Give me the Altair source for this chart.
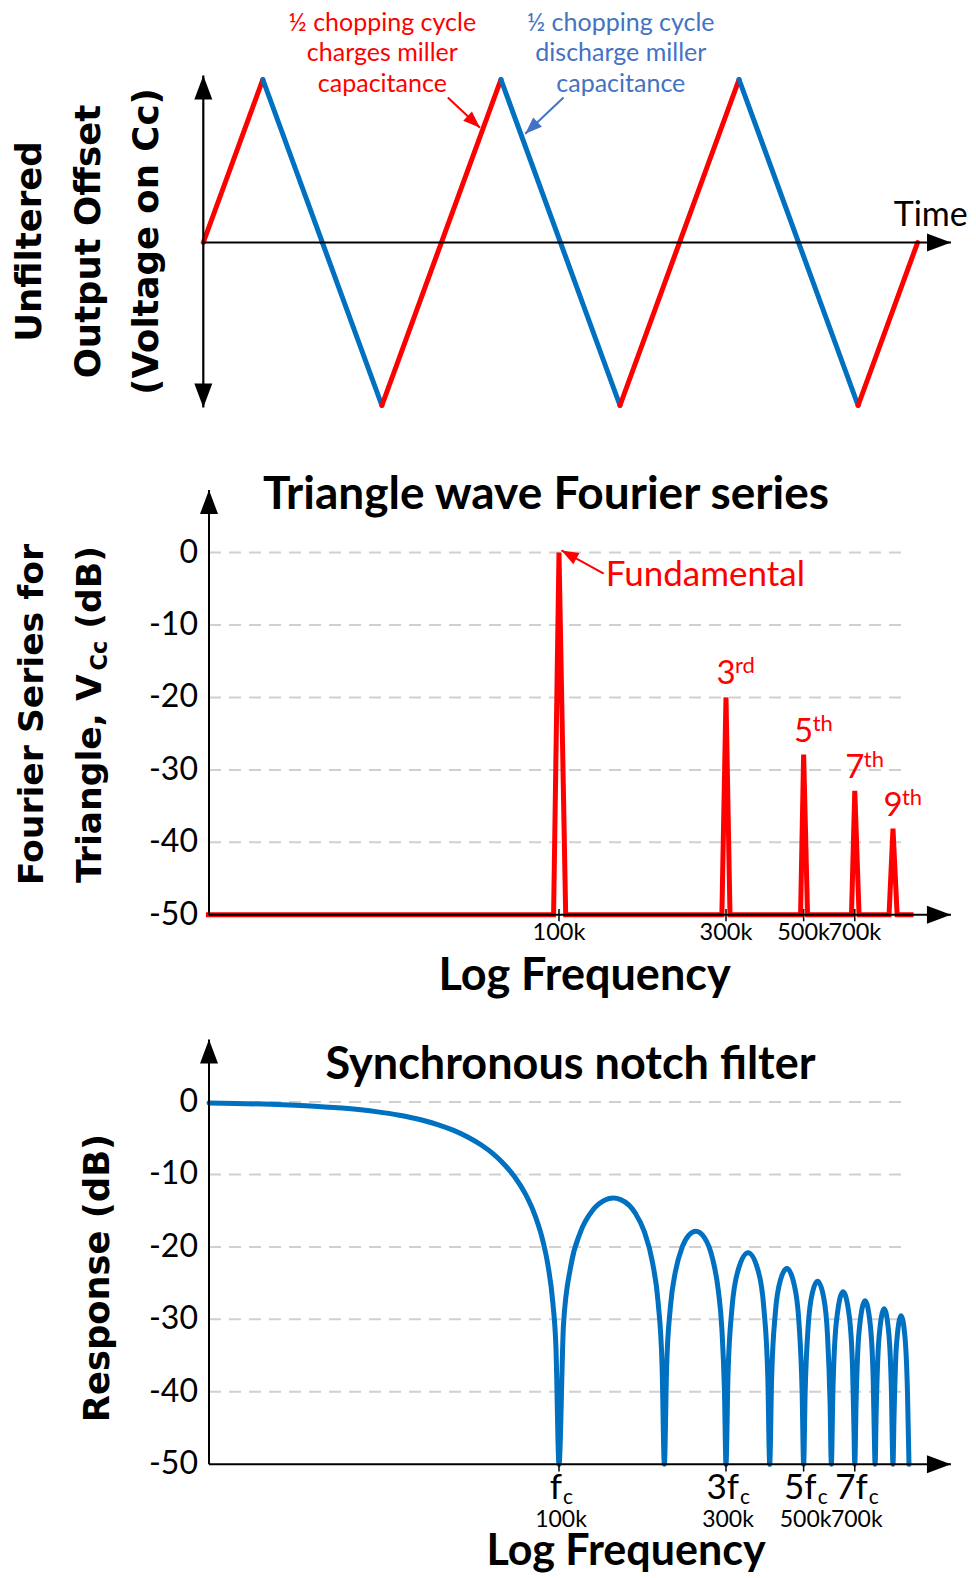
import altair as alt
import pandas as pd

# ---------------- data ----------------
# Panel 1: triangle wave (time in half chopping periods, normalised offset)
tri_time = [0, 0.5, 1.5, 2.5, 3.5, 4.5, 5.5, 6.0]
tri_volt = [0, 1.0, -1.0, 1.0, -1.0, 1.0, -1.0, 0]

# Panel 2: Fourier series of the triangle (kHz, dB)
spec_khz = [9.8, 96.5, 100, 104.5, 292, 300, 308, 490, 500, 513, 685, 700, 720, 877, 900, 925, 1030]
spec_db = [-50, -50, 0, -50, -50, -20.0, -50, -50, -27.9, -50, -50, -32.9, -50, -50, -38.1, -50, -50]
harm_khz = [300, 500, 700, 900]
harm_db = [-20.0, -27.9, -32.9, -38.1]
harm_num = ["3", "5", "7", "9"]
harm_sup = ["rd", "th", "th", "th"]

# Panel 3: synchronous notch filter response (kHz, dB)
notch_khz = [10, 15, 20, 25, 30, 35, 40, 45, 50, 55, 60, 65, 70, 75, 80, 85, 90, 93, 96, 98, 100,
             103, 108, 115, 125, 135, 143, 150, 165, 175, 185, 192, 197, 200,
             203, 208, 215, 225, 235, 246, 260, 275, 285, 292, 297, 300,
             304, 312, 325, 347, 370, 385, 395, 400,
             405, 415, 430, 448, 470, 485, 495, 500,
             505, 515, 530, 548, 570, 585, 595, 600,
             606, 620, 648, 675, 690, 696, 700,
             706, 720, 749, 775, 790, 796, 800,
             806, 820, 849, 875, 890, 900,
             906, 920, 949, 975, 990, 1000]
notch_db = [-0.14, -0.32, -0.58, -0.91, -1.33, -1.83, -2.42, -3.12, -3.92, -4.86, -5.94, -7.20, -8.69,
            -10.45, -12.62, -15.39, -19.23, -22.54, -27.63, -33.81, -50,
            -30.73, -22.70, -18.02, -14.89, -13.55, -13.26, -13.47, -15.30, -17.81, -22.15, -27.70, -36.36, -50,
            -36.62, -28.39, -23.45, -20.00, -18.37, -17.83, -18.68, -21.74, -25.90, -31.34, -39.93, -50,
            -37.64, -28.51, -23.19, -20.79, -23.15, -28.51, -37.99, -50,
            -38.21, -29.16, -24.45, -22.99, -25.23, -30.52, -39.95, -50,
            -40.12, -31.04, -26.27, -24.74, -26.90, -32.15, -41.55, -50,
            -40.14, -30.41, -26.19, -29.54, -36.92, -44.84, -50,
            -41.46, -31.70, -27.44, -30.74, -38.10, -46.00, -50,
            -42.62, -32.83, -28.53, -31.79, -39.13, -50,
            -43.63, -33.83, -29.49, -32.73, -40.06, -50]

tick_khz = [100, 300, 500, 700]
tick_text = ["100k", "300k", "500k", "700k"]
fc_text = ["f", "3f", "5f", "7f"]
db_ticks = [0, -10, -20, -30, -40, -50]
grid_db = [0, -10, -20, -30, -40]

# ---------------- styling ----------------
FONT = "Lato"
TFONT = "DejaVu Sans"
RED = "#FF0000"
BLUE = "#0070C0"
LBLUE = "#4472C4"
GRID = "#D0D0D0"
ARROW = "M0,0L0.75,2L-0.75,2Z"
W = 960


def df(**cols):
    return pd.DataFrame(cols)


def xy(sx, sy):
    return dict(x=alt.X("x:Q", scale=sx, axis=None), y=alt.Y("y:Q", scale=sy, axis=None))


def rules(data, sx, sy, **mk):
    return alt.Chart(data).mark_rule(**mk).encode(**xy(sx, sy), x2="x2:Q", y2="y2:Q")


def texts(data, sx, sy, **mk):
    return alt.Chart(data).mark_text(**mk).encode(**xy(sx, sy), text="label:N")


def heads(data, sx, sy, size=576, color="black"):
    return alt.Chart(data).mark_point(shape=ARROW, filled=True, size=size, color=color,
                                      opacity=1, strokeWidth=0).encode(
        **xy(sx, sy), angle=alt.Angle("ang:Q", scale=None))


# ================= Panel 1 =================
sx1 = alt.Scale(domain=[-1.6405, 6.4233], nice=False, zero=False)
sy1 = alt.Scale(domain=[-1.2607, 1.4387], nice=False, zero=False)

seg = pd.DataFrame({
    "x": tri_time[:-1], "y": tri_volt[:-1], "x2": tri_time[1:], "y2": tri_volt[1:],
    "phase": ["charge" if b > a else "discharge" for a, b in zip(tri_volt[:-1], tri_volt[1:])],
})
tri = alt.Chart(seg).mark_rule(strokeWidth=5, strokeCap="round").encode(
    **xy(sx1, sy1), x2="x2:Q", y2="y2:Q",
    color=alt.Color("phase:N", scale=alt.Scale(domain=["charge", "discharge"], range=[RED, BLUE]), legend=None))

ax1 = rules(df(x=[0, 0], y=[-1.0129, 0], x2=[0, 6.2806], y2=[1.0245, 0]), sx1, sy1,
            color="black", strokeWidth=2.2)
hd1 = heads(df(x=[0, 0, 6.2806], y=[1.0245, -1.0129, 0], ang=[0, 180, 90]), sx1, sy1)

red_txt = texts(df(x=[1.504] * 3, y=[1.345, 1.162, 0.973],
                   label=["½ chopping cycle", "charges miller", "capacitance"]), sx1, sy1,
                font=FONT, fontSize=25, color=RED, align="center", baseline="middle")
blue_txt = texts(df(x=[3.507] * 3, y=[1.345, 1.162, 0.973],
                    label=["½ chopping cycle", "discharge miller", "capacitance"]), sx1, sy1,
                 font=FONT, fontSize=25, color=LBLUE, align="center", baseline="middle")
time_txt = texts(df(x=[6.11], y=[0.160], label=["Time"]), sx1, sy1,
                 font=FONT, fontSize=34, color="black", align="center", baseline="middle")

red_arr = rules(df(x=[2.054], y=[0.889], x2=[2.324], y2=[0.704]), sx1, sy1, color=RED, strokeWidth=2)
red_hd = heads(df(x=[2.324], y=[0.704], ang=[133.2]), sx1, sy1, size=289, color=RED)
blue_arr = rules(df(x=[3.026], y=[0.889], x2=[2.704], y2=[0.667]), sx1, sy1, color=LBLUE, strokeWidth=2)
blue_hd = heads(df(x=[2.704], y=[0.667], ang=[226.6]), sx1, sy1, size=289, color=LBLUE)

ytitle1 = texts(df(x=[-1.454, -0.964, -0.474], y=[0.006] * 3,
                   label=["Unfiltered", "Output Offset", "(Voltage on Cc)"]), sx1, sy1,
                font=TFONT, fontSize=35.5, fontWeight="bold", angle=270, align="center",
                baseline="middle", color="black")

p1 = alt.layer(tri, ax1, hd1, red_txt, blue_txt, time_txt, red_arr, red_hd, blue_arr, blue_hd,
               ytitle1).properties(width=W, height=440)

# ================= Panel 2 =================
sx2 = alt.Scale(type="log", domain=[2.6651, 1474.28], nice=False)
sy2 = alt.Scale(domain=[-62.448, 14.422], nice=False, zero=False)

grid2 = rules(df(x=[10] * 5, x2=[990] * 5, y=grid_db, y2=grid_db), sx2, sy2,
              color=GRID, strokeWidth=2, strokeDash=[12, 8])
spec = alt.Chart(df(x=spec_khz, y=spec_db)).mark_line(color=RED, strokeWidth=5).encode(**xy(sx2, sy2))
ax2 = rules(df(x=[10, 10], y=[-50, -50], x2=[10, 1318], y2=[8.62, -50]), sx2, sy2,
            color="black", strokeWidth=2)
tk2 = rules(df(x=tick_khz, x2=tick_khz, y=[-50.9] * 4, y2=[-49.2] * 4), sx2, sy2,
            color="black", strokeWidth=1.5)
hd2 = heads(df(x=[10, 1318], y=[8.62, -50], ang=[0, 90]), sx2, sy2)
ylab2 = texts(df(x=[10] * 6, y=db_ticks, label=[str(v) for v in db_ticks]), sx2, sy2,
              font=FONT, fontSize=32, align="right", baseline="middle", dx=-11, color="black")
xlab2 = texts(df(x=tick_khz, y=[-50] * 4, label=tick_text), sx2, sy2,
              font=FONT, fontSize=23.5, align="center", baseline="middle", dy=18, color="black")
title2 = texts(df(x=[91.8], y=[7.94], label=["Triangle wave Fourier series"]), sx2, sy2,
               font=FONT, fontSize=46, fontWeight="bold", align="center", baseline="middle", color="black")
xt2 = texts(df(x=[118.35], y=[-58.45], label=["Log Frequency"]), sx2, sy2,
            font=FONT, fontSize=45, fontWeight="bold", align="center", baseline="middle", color="black")
hnum = texts(df(x=harm_khz, y=harm_db, label=harm_num), sx2, sy2,
             font=FONT, fontSize=33, align="center", baseline="middle", dy=-23, color=RED)
hsup = texts(df(x=harm_khz, y=harm_db, label=harm_sup), sx2, sy2,
             font=FONT, fontSize=22, align="left", baseline="middle", dx=9, dy=-31, color=RED)
fund = texts(df(x=[135.96], y=[-3.06], label=["Fundamental"]), sx2, sy2,
             font=FONT, fontSize=35, align="left", baseline="middle", color=RED)
fund_arr = rules(df(x=[134.2], y=[-2.91], x2=[101.66], y2=[0.28]), sx2, sy2, color=RED, strokeWidth=2)
fund_hd = heads(df(x=[101.66], y=[0.28], ang=[298.7]), sx2, sy2, size=289, color=RED)
yt2a = texts(df(x=[3.146], y=[-22.36], label=["Fourier Series for"]), sx2, sy2,
             font=TFONT, fontSize=34.6, fontWeight="bold", angle=270, align="center", baseline="middle",
             color="black")
yt2b = texts(df(x=[4.588, 4.588], y=[-45.6, -10.52], label=["Triangle, V", "(dB)"]), sx2, sy2,
             font=TFONT, fontSize=34.6, fontWeight="bold", angle=270, align="left", baseline="middle",
             color="black")
yt2c = texts(df(x=[4.882], y=[-16.27], label=["Cc"]), sx2, sy2,
             font=TFONT, fontSize=22.5, fontWeight="bold", angle=270, align="left", baseline="middle",
             color="black")

p2 = alt.layer(grid2, spec, ax2, tk2, hd2, ylab2, xlab2, title2, xt2, hnum, hsup, fund, fund_arr,
               fund_hd, yt2a, yt2b, yt2c).properties(width=W, height=557)

# ================= Panel 3 =================
sx3 = alt.Scale(type="log", domain=[2.6651, 1474.28], nice=False)
sy3 = alt.Scale(domain=[-63.90, 13.387], nice=False, zero=False)

grid3 = rules(df(x=[10] * 5, x2=[990] * 5, y=grid_db, y2=grid_db), sx3, sy3,
              color=GRID, strokeWidth=2, strokeDash=[12, 8])
curve = alt.Chart(df(x=notch_khz, y=notch_db)).mark_line(
    color=BLUE, strokeWidth=5, interpolate="monotone", strokeCap="round", strokeJoin="round").encode(
    **xy(sx3, sy3))
ax3 = rules(df(x=[10, 10], y=[-50, -50], x2=[10, 1318], y2=[8.61, -50]), sx3, sy3,
            color="black", strokeWidth=2)
tk3 = rules(df(x=tick_khz, x2=tick_khz, y=[-51.0] * 4, y2=[-50] * 4), sx3, sy3,
            color="black", strokeWidth=1.5)
hd3 = heads(df(x=[10, 1318], y=[8.61, -50], ang=[0, 90]), sx3, sy3)
ylab3 = texts(df(x=[10] * 6, y=db_ticks, label=[str(v) for v in db_ticks]), sx3, sy3,
              font=FONT, fontSize=32, align="right", baseline="middle", dx=-11, color="black")
fmain1 = texts(df(x=tick_khz[:1], y=[-50], label=fc_text[:1]), sx3, sy3,
               font=FONT, fontSize=35, align="right", baseline="middle", dx=3, dy=24, color="black")
fsub1 = texts(df(x=tick_khz[:1], y=[-50], label=["c"]), sx3, sy3,
              font=FONT, fontSize=21, align="left", baseline="middle", dx=4, dy=34, color="black")
fmain = texts(df(x=tick_khz[1:], y=[-50] * 3, label=fc_text[1:]), sx3, sy3,
              font=FONT, fontSize=35, align="right", baseline="middle", dx=13, dy=24, color="black")
fsub = texts(df(x=tick_khz[1:], y=[-50] * 3, label=["c"] * 3), sx3, sy3,
             font=FONT, fontSize=21, align="left", baseline="middle", dx=14, dy=34, color="black")
klab3 = texts(df(x=tick_khz, y=[-50] * 4, label=tick_text), sx3, sy3,
              font=FONT, fontSize=23, align="center", baseline="middle", dx=2, dy=56, color="black")
title3 = texts(df(x=[107.86], y=[5.13], label=["Synchronous notch filter"]), sx3, sy3,
               font=FONT, fontSize=45, fontWeight="bold", align="center", baseline="middle", color="black")
xt3 = texts(df(x=[155.4], y=[-62.05], label=["Log Frequency"]), sx3, sy3,
            font=FONT, fontSize=43, fontWeight="bold", align="center", baseline="middle", color="black")
yt3 = texts(df(x=[4.805], y=[-24.29], label=["Response (dB)"]), sx3, sy3,
            font=TFONT, fontSize=35.3, fontWeight="bold", angle=270, align="center", baseline="middle",
            color="black")

p3 = alt.layer(grid3, curve, ax3, tk3, hd3, ylab3, fmain1, fsub1, fmain, fsub, klab3, title3, xt3,
               yt3).properties(width=W, height=560)

chart = alt.vconcat(p1, p2, p3, spacing=0, bounds="flush").properties(
    padding=0).configure_view(stroke=None)

chart.save("out.html", embed_options={"renderer": "svg", "actions": False})
